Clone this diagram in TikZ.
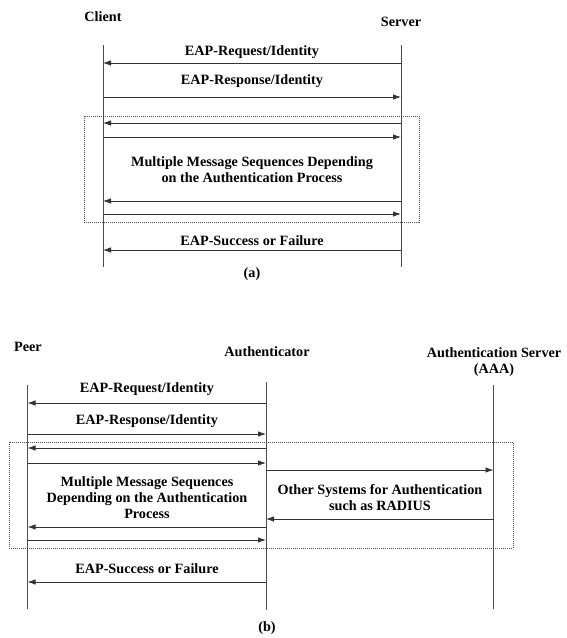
\documentclass[tikz,border=0pt]{standalone}
\usepackage{fontspec}
\setmainfont{Liberation Serif}
\usetikzlibrary{positioning, arrows.meta, calc}

\begin{document}
\begin{tikzpicture}[
    x=1pt, y=-1pt,
    every node/.style={align=center, font=\fontsize{14.2}{16}\selectfont\bfseries, inner sep=0pt},
    lifeline/.style={line width=0.8pt, black!70},
    msg/.style={-{Latex[length=8pt, width=5.5pt]}, line width=0.8pt, black!80},
    group/.style={draw=black!70, line width=0.6pt, dash pattern=on 1pt off 1pt}
]
\useasboundingbox (0,0) rectangle (566,638);

% (a) Teilnehmer
\node (client) at (103,17) {Client};
\node (server) at (401,22) {Server};
\coordinate (cT) at (103,45);  \coordinate (cB) at (103,267);
\coordinate (sT) at (401,45);  \coordinate (sB) at (401,267);
\draw[lifeline] (cT) -- (cB);
\draw[lifeline] (sT) -- (sB);

% (a) Gruppe
\coordinate (gA1) at (84,116); \coordinate (gA2) at (419,222);
\draw[group] (gA1) rectangle (gA2);

% (a) Nachrichten
\foreach \y/\n in {63/a1, 97/a2, 123/a3, 137/a4, 201/a5, 214/a6, 250/a7}
    \coordinate (\n) at (0,\y);
\draw[msg] (sT |- a1) -- (cT |- a1);
\draw[msg] (cT |- a2) -- (sT |- a2);
\draw[msg] (sT |- a3) -- (cT |- a3);
\draw[msg] (cT |- a4) -- (sT |- a4);
\draw[msg] (sT |- a5) -- (cT |- a5);
\draw[msg] (cT |- a6) -- (sT |- a6);
\draw[msg] (sT |- a7) -- (cT |- a7);

\node (reqA) at (252,52) {EAP-Request/Identity};
\node (respA) at (252,81) {EAP-Response/Identity};
\node (multA) at (252,170) {Multiple Message Sequences Depending\\on the Authentication Process};
\node (succA) at (252,241) {EAP-Success or Failure};
\node (capA) at (252,274) {(a)};

% (b) Teilnehmer
\node (peer) at (28,347) {Peer};
\node (auth) at (267,352) {Authenticator};
\node (aaa) at (494,362) {Authentication Server\\(AAA)};
\coordinate (pT) at (27.5,385); \coordinate (pB) at (27.5,609);
\coordinate (uT) at (266,382);  \coordinate (uB) at (266,610);
\coordinate (vT) at (493.5,385); \coordinate (vB) at (493.5,609);
\draw[lifeline] (pT) -- (pB);
\draw[lifeline] (uT) -- (uB);
\draw[lifeline] (vT) -- (vB);

% (b) Gruppe
\coordinate (gB1) at (9,442); \coordinate (gB2) at (513,548);
\draw[group] (gB1) rectangle (gB2);

% (b) Nachrichten
\foreach \y/\n in {403/b1, 434/b2, 448/b3, 463/b4, 470/b5, 519/b6, 527/b7, 540/b8, 582/b9}
    \coordinate (\n) at (0,\y);
\draw[msg] (uT |- b1) -- (pT |- b1);
\draw[msg] (pT |- b2) -- (uT |- b2);
\draw[msg] (uT |- b3) -- (pT |- b3);
\draw[msg] (pT |- b4) -- (uT |- b4);
\draw[msg] (uT |- b5) -- (vT |- b5);
\draw[msg] (vT |- b6) -- (uT |- b6);
\draw[msg] (uT |- b7) -- (pT |- b7);
\draw[msg] (pT |- b8) -- (uT |- b8);
\draw[msg] (uT |- b9) -- (pT |- b9);

\node (reqB) at (147,389) {EAP-Request/Identity};
\node (respB) at (147,421) {EAP-Response/Identity};
\node (multB) at (147,498) {Multiple Message Sequences\\Depending on the Authentication\\Process};
\node (other) at (380,498) {Other Systems for Authentication\\such as RADIUS};
\node (succB) at (147,569) {EAP-Success or Failure};
\node (capB) at (267,628) {(b)};

\end{tikzpicture}
\end{document}
